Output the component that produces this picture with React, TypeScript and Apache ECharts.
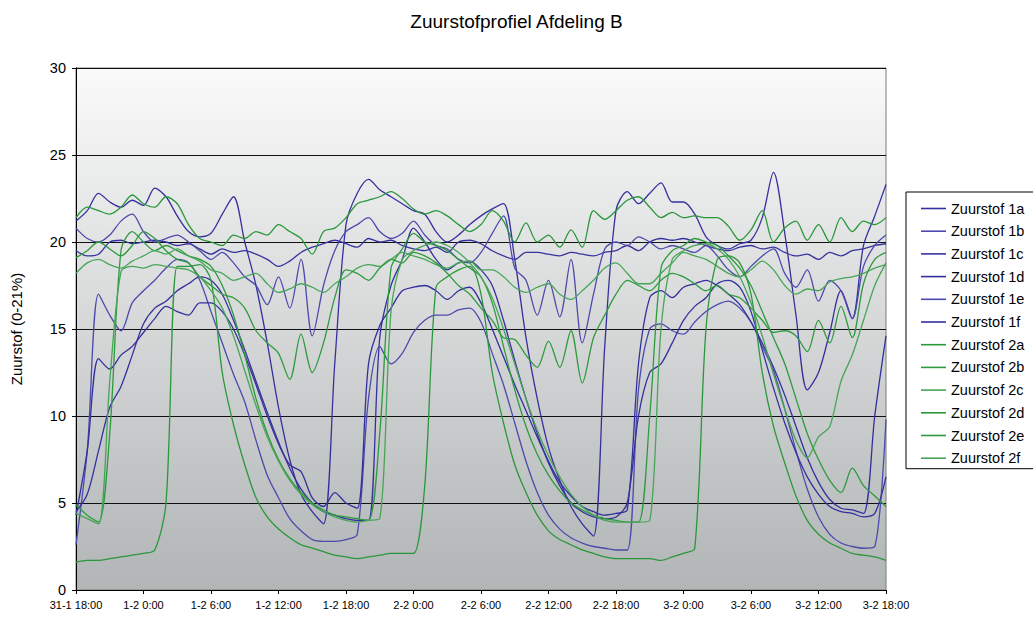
import React, { useEffect, useRef } from "react";
import * as echarts from "echarts";

// hours since 31-1 18:00, one sample per hour
const hours = Array.from({ length: 73 }, (_, i) => i);

const tickLabels = [
  "31-1 18:00", "1-2 0:00", "1-2 6:00", "1-2 12:00", "1-2 18:00",
  "2-2 0:00", "2-2 6:00", "2-2 12:00", "2-2 18:00",
  "3-2 0:00", "3-2 6:00", "3-2 12:00", "3-2 18:00",
];

const seriesNames = [
  "Zuurstof 1a", "Zuurstof 1b", "Zuurstof 1c", "Zuurstof 1d", "Zuurstof 1e", "Zuurstof 1f",
  "Zuurstof 2a", "Zuurstof 2b", "Zuurstof 2c", "Zuurstof 2d", "Zuurstof 2e", "Zuurstof 2f",
];

const z1a = [
  21.2, 21.8, 22.8, 22.3, 22.0, 22.4, 22.1, 23.1, 22.6, 21.5,
  20.6, 20.3, 20.5, 21.6, 22.6, 20.0, 17.5, 14.2, 10.5, 7.5,
  5.5, 4.5, 3.8, 13.0, 21.0, 22.8, 23.6, 23.0, 22.6, 22.2,
  21.8, 21.6, 20.6, 20.0, 20.4, 21.0, 21.5, 21.9, 22.2, 19.0,
  14.5, 11.0, 8.2, 6.3, 4.8, 3.8, 3.1, 14.0, 21.8, 22.9,
  22.2, 22.8, 23.4, 22.3, 22.3, 21.6, 20.3, 19.8, 19.6, 19.9,
  20.1, 21.4, 24.0, 20.5, 15.8, 11.5, 12.5, 14.8, 17.2, 15.6,
  19.8, 21.5, 23.3,
];
const z1b = [
  2.6, 8.0, 17.0, 15.8, 14.9, 16.5, 17.2, 17.8, 18.5, 19.0,
  18.8, 17.8, 16.0, 14.2, 12.4, 10.8, 8.6, 6.6, 5.3, 4.1,
  3.4, 2.9, 2.8, 2.8, 2.9, 3.2, 11.0, 14.0, 13.0, 13.6,
  14.8, 15.5, 15.8, 15.8, 16.1, 16.2, 15.4, 13.6, 11.8, 9.6,
  7.4, 5.6, 4.3, 3.5, 3.0, 2.7, 2.5, 2.4, 2.3, 2.3,
  11.5, 15.0, 15.3, 14.9, 14.7, 15.4, 16.0, 16.4, 16.6, 16.2,
  15.4, 14.0, 12.6, 10.4, 8.0, 5.8, 4.2, 3.2, 2.7, 2.5,
  2.4, 2.5, 9.8,
];
const z1c = [
  19.5, 19.2, 19.3, 20.0, 20.1, 19.9, 20.0, 20.1, 20.0, 19.8,
  19.9, 19.6, 19.3, 19.6, 19.4, 19.5, 19.3, 19.0, 18.6, 18.9,
  19.4, 19.7, 19.9, 20.1, 19.9, 19.7, 20.2, 20.0, 20.1, 19.8,
  19.6, 19.5, 19.7, 19.4, 20.0, 20.1, 19.9, 19.5, 19.2, 19.0,
  19.4, 19.4, 19.3, 19.2, 19.4, 19.3, 19.2, 19.4, 19.5, 19.8,
  19.5, 20.0, 20.2, 20.1, 20.2, 20.0, 19.8, 19.6, 19.5, 19.7,
  19.8, 19.6, 19.7, 19.4, 19.2, 19.3, 19.0, 19.4, 19.2, 19.5,
  19.6, 19.8, 19.9,
];
const z1d = [
  4.3, 8.0, 13.3, 12.7, 13.5, 14.0, 14.8, 15.6, 16.3, 16.0,
  15.8, 16.5, 16.5, 16.0, 15.0, 13.5, 11.8, 10.0, 8.4, 7.2,
  6.8, 5.3, 4.8, 5.6, 5.0, 4.7, 13.0, 15.2, 16.2, 17.2,
  17.4, 17.5, 17.2, 16.7, 17.2, 17.4, 16.5, 15.0, 13.4, 11.8,
  10.3, 8.8, 7.4, 6.2, 5.4, 4.8, 4.5, 4.3, 4.4, 4.6,
  13.0, 16.8, 17.2, 16.8, 17.4, 17.6, 17.8, 17.5, 17.0, 16.4,
  15.4, 14.2, 12.8, 11.2, 9.4, 7.6, 6.2, 5.2, 4.7, 4.6,
  4.4, 10.0, 14.6,
];
const z1e = [
  20.8, 20.2, 20.0, 20.4, 21.2, 21.6, 20.6, 20.0, 20.2, 20.4,
  20.0, 19.5, 19.0, 19.4, 18.8, 18.0, 17.5, 16.4, 18.0, 16.2,
  19.0, 14.6, 17.5, 19.5, 20.6, 21.0, 21.4, 20.6, 20.2, 20.5,
  21.2, 20.4, 19.8, 19.6, 19.0, 18.8, 19.4, 20.5, 21.5, 18.5,
  17.8, 15.8, 17.8, 15.7, 19.0, 14.2, 17.0, 19.6, 20.0, 19.8,
  20.3, 20.0, 19.6, 19.8, 19.6, 19.4, 19.8, 19.2, 18.4, 18.0,
  18.6, 19.2, 19.6, 18.2, 17.4, 18.4, 16.6, 17.8, 17.2, 15.6,
  18.6, 19.8, 20.4,
];
const z1f = [
  4.5, 5.5, 8.0, 10.5, 11.7, 13.5, 15.3, 16.2, 16.6, 17.2,
  17.6, 18.0, 17.8, 17.0, 15.5, 13.8, 12.0, 10.2, 8.5, 7.0,
  5.8, 5.0, 4.5, 4.3, 4.1, 4.0, 4.0, 14.5, 17.5, 19.0,
  20.8, 20.0, 19.0, 18.4, 18.8, 18.9, 18.4, 17.5, 15.5, 13.2,
  11.0, 9.0, 7.3, 6.0, 5.0, 4.5, 4.2, 4.1, 4.2, 5.0,
  10.0, 12.5, 13.0, 14.2, 15.5, 16.3, 16.8, 17.6, 17.8, 17.4,
  16.0, 13.8, 11.6, 9.6, 7.9, 6.5, 5.5, 4.8, 4.5, 4.4,
  4.2, 4.4, 6.5,
];
const z2a = [
  21.4, 22.0, 21.8, 21.6, 22.0, 22.7, 22.2, 22.0, 22.6, 22.2,
  21.0, 20.2, 20.0, 19.8, 20.4, 20.2, 20.6, 20.4, 21.0, 20.6,
  20.2, 19.3, 20.6, 20.8, 21.4, 22.2, 22.4, 22.6, 22.9, 22.5,
  21.9, 21.6, 21.8, 21.5, 21.0, 20.6, 21.0, 21.8, 21.2, 20.0,
  21.1, 20.0, 20.4, 19.7, 20.7, 19.7, 21.8, 21.3, 21.8, 22.4,
  22.6, 22.0, 21.4, 21.7, 21.4, 21.5, 21.4, 21.4, 20.9, 20.1,
  20.7, 21.8, 20.0, 20.8, 21.2, 20.1, 21.0, 20.0, 21.4, 20.6,
  21.2, 21.0, 21.4,
];
const z2b = [
  4.9, 4.3, 3.9, 9.0, 19.5, 20.6, 20.0, 19.5, 19.8, 19.5,
  19.2, 19.0, 18.6, 17.5, 15.8, 13.5, 11.0, 9.0, 7.5, 6.4,
  5.6, 5.0, 4.6, 4.3, 4.2, 4.1, 4.0, 9.0, 18.5, 19.6,
  20.5, 20.0, 19.8, 19.5, 19.0, 18.5, 18.0, 16.5, 14.0, 11.5,
  9.4, 7.8, 6.6, 5.7, 5.0, 4.6, 4.3, 4.1, 4.0, 3.9,
  3.9, 10.0, 18.5, 19.5, 19.8, 20.2, 20.0, 19.8, 19.2, 18.5,
  17.5, 16.0, 14.5, 13.0, 11.0, 9.0, 7.5, 6.3, 5.6, 7.0,
  6.0, 5.4, 4.8,
];
const z2c = [
  18.2, 18.8, 19.0, 18.7, 18.5, 18.9, 19.2, 19.5, 19.3, 19.6,
  19.2, 18.9, 18.4, 18.2, 17.8, 18.0, 18.2, 17.6, 17.1, 17.3,
  17.6, 17.4, 17.1, 17.6, 18.0, 18.5, 18.7, 18.6, 19.0, 19.4,
  19.2, 19.0, 18.7, 18.5, 18.8, 18.9, 18.4, 18.4, 18.0, 17.4,
  17.1, 17.4, 17.6, 17.0, 16.7, 17.2, 17.8, 18.5, 18.8, 18.2,
  17.6, 17.6, 18.2, 18.8, 19.4, 19.2, 19.0, 18.6, 18.2, 18.0,
  18.4, 18.9, 18.4, 17.5, 17.0, 17.3, 17.2, 17.7, 17.9, 18.0,
  18.2, 18.5, 18.7,
];
const z2d = [
  1.6, 1.7, 1.7, 1.8, 1.9, 2.0, 2.1, 2.3, 5.0, 18.6,
  18.6, 18.7, 17.8, 12.5, 9.5, 7.2, 5.3, 4.2, 3.5, 3.0,
  2.6, 2.4, 2.2, 2.0, 1.9, 1.8, 1.9, 2.0, 2.1, 2.1,
  2.1, 6.0, 17.4, 18.0, 18.4, 18.6, 17.0, 12.5, 9.6, 7.2,
  5.6, 4.3, 3.4, 2.9, 2.6, 2.3, 2.1, 1.9, 1.8, 1.8,
  1.8, 1.8, 1.7, 1.9, 2.1, 2.4, 15.0, 19.0, 19.2, 18.8,
  17.0, 12.5, 9.4, 7.3, 5.4, 4.0, 3.2, 2.7, 2.4, 2.1,
  2.0, 1.9, 1.7,
];
const z2e = [
  19.1, 19.5, 20.0, 19.6, 19.2, 19.8, 20.6, 20.2, 19.5, 19.0,
  18.8, 18.0, 17.5, 17.0, 16.8, 16.2, 14.9, 14.2, 13.6, 12.1,
  14.7, 12.5, 14.2, 16.8, 18.4, 18.2, 17.8, 18.5, 19.0, 18.8,
  19.4, 19.2, 18.8, 18.2, 17.5, 17.0, 16.2, 15.5, 14.5, 14.4,
  13.5, 12.8, 14.3, 12.8, 14.9, 11.9, 14.5, 15.8, 17.0, 17.8,
  17.5, 17.2, 17.8, 18.2, 18.0, 17.6, 17.2, 17.5, 17.0, 16.8,
  16.2, 15.5, 14.8, 14.9, 14.6, 13.7, 15.5, 14.2, 16.3, 14.5,
  17.6, 19.0, 19.4,
];
const z2f = [
  4.4, 4.1, 3.8, 12.0, 18.3, 18.6, 18.5, 18.7, 18.6, 18.5,
  18.4, 18.0, 17.2, 16.2, 14.6, 12.6, 10.6, 8.8, 7.4, 6.3,
  5.5, 4.9, 4.5, 4.2, 4.0, 3.9, 4.0, 4.1, 16.0, 19.0,
  19.5, 19.8, 20.0, 19.8, 19.4, 18.8, 18.0, 16.8, 15.0, 13.0,
  11.0, 9.2, 7.7, 6.5, 5.5, 4.8, 4.3, 4.0, 3.9, 3.9,
  3.9, 4.0, 15.0, 19.0, 19.5, 19.8, 19.9, 19.6, 19.0, 18.0,
  16.5, 14.6, 12.4, 10.4, 8.6, 7.6, 8.8, 9.4, 12.0, 13.5,
  15.5, 17.5, 18.8,
];

const seriesValues = [z1a, z1b, z1c, z1d, z1e, z1f, z2a, z2b, z2c, z2d, z2e, z2f];
const seriesColors = [
  "#35309e", "#4c4aac", "#37339f", "#32309c", "#4c4aac", "#35309e",
  "#2a973a", "#2e9a3e", "#48a558", "#2a973a", "#2e9a3e", "#48a558",
];

const FONT = "'Liberation Sans', Arial, Helvetica, sans-serif";

export default function App() {
  const ref = useRef<HTMLDivElement>(null);

  useEffect(() => {
    if (!ref.current) return;
    const chart = echarts.init(ref.current, null, { renderer: "svg" });
    const option = {
      animation: false,
      backgroundColor: "#ffffff",
      textStyle: { fontFamily: FONT },
      title: {
        text: "Zuurstofprofiel Afdeling B",
        left: "center",
        top: 7,
        textStyle: { fontFamily: FONT, fontSize: 19, fontWeight: "normal", color: "#000" },
      },
      grid: {
        left: 76,
        top: 68,
        right: 147,
        bottom: 29,
        show: true,
        borderColor: "#7a7a7a",
        borderWidth: 1,
        backgroundColor: new echarts.graphic.LinearGradient(0, 0, 0, 1, [
          { offset: 0, color: "#fafafa" },
          { offset: 1, color: "#b1b5b6" },
        ]),
      },
      legend: {
        orient: "vertical",
        left: 906,
        top: 192,
        padding: [9, 12, 3, 15],
        itemGap: 7.7,
        itemWidth: 25,
        itemHeight: 1.6,
        icon: "rect",
        borderColor: "#000",
        borderWidth: 1,
        backgroundColor: "#fff",
        textStyle: { fontFamily: FONT, fontSize: 14.5, color: "#000", lineHeight: 14 },
        data: seriesNames,
      },
      xAxis: {
        type: "value",
        min: 0,
        max: 72,
        interval: 6,
        axisLine: { show: true, lineStyle: { color: "#000", width: 1 } },
        axisTick: { show: true, length: 4, lineStyle: { color: "#000" } },
        splitLine: { show: false },
        axisLabel: {
          fontFamily: FONT,
          fontSize: 11,
          color: "#000",
          margin: 9,
          showMinLabel: true,
          showMaxLabel: true,
          formatter: (v: number) => tickLabels[Math.round(v / 6)] ?? "",
        },
      },
      yAxis: {
        type: "value",
        min: 0,
        max: 30,
        interval: 5,
        name: "Zuurstof (0-21%)",
        nameLocation: "middle",
        nameGap: 52,
        nameTextStyle: { fontFamily: FONT, fontSize: 15, color: "#000" },
        axisLine: { show: true, lineStyle: { color: "#000", width: 1 } },
        axisTick: { show: true, length: 4, lineStyle: { color: "#000" } },
        splitLine: { show: true, lineStyle: { color: "#111", width: 1 } },
        axisLabel: { fontFamily: FONT, fontSize: 14.5, color: "#000", margin: 10 },
      },
      series: seriesNames.map((name, k) => ({
        name,
        type: "line",
        data: seriesValues[k].map((v, i) => [hours[i], v]),
        showSymbol: false,
        symbol: "none",
        smooth: 0.3,
        lineStyle: { color: seriesColors[k], width: 1.3 },
        itemStyle: { color: seriesColors[k] },
      })),
    };
    chart.setOption(option as any);
    return () => chart.dispose();
  }, []);

  return (
    <div
      ref={ref}
      style={{ position: "absolute", left: 0, top: 0, width: 1033, height: 619 }}
    />
  );
}
